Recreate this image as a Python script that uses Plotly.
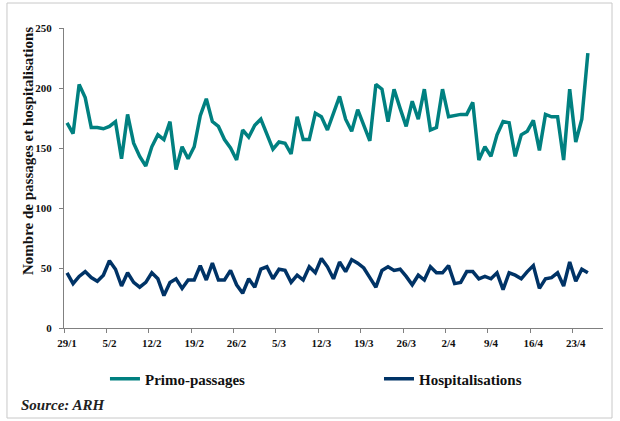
import pandas as pd
import plotly.graph_objects as go

# Daily categories 29/1 -> 25/4 (non-leap year)
dates = pd.date_range("2006-01-29", "2006-04-25", freq="D")
categories = [f"{d.day}/{d.month}" for d in dates]

primo_passages = [
    171, 162, 203, 192, 167, 167, 166, 168, 172, 141,
    178, 154, 143, 135, 151, 161, 157, 172, 132, 151,
    141, 151, 177, 191, 172, 168, 157, 150, 140, 165,
    159, 169, 174, 161, 149, 155, 154, 145, 176, 157,
    157, 179, 176, 165, 178, 193, 174, 164, 182, 169,
    156, 203, 199, 172, 199, 183, 168, 189, 174, 199,
    165, 167, 199, 176, 177, 178, 178, 188, 140, 151,
    143, 161, 172, 171, 143, 161, 164, 173, 148, 178,
    176, 176, 140, 199, 155, 174, 229,
]

hospitalisations = [
    46, 37, 43, 47, 42, 39, 44, 56, 49, 35,
    46, 38, 34, 38, 46, 41, 27, 38, 41, 33,
    40, 40, 52, 40, 54, 40, 40, 48, 36, 29,
    41, 34, 49, 51, 41, 49, 48, 38, 44, 40,
    51, 46, 58, 51, 41, 55, 47, 57, 54, 50,
    42, 34, 48, 51, 48, 49, 43, 36, 44, 40,
    51, 46, 46, 52, 37, 38, 47, 47, 41, 43,
    41, 46, 32, 46, 44, 41, 47, 52, 33, 41,
    42, 46, 35, 55, 39, 49, 46,
]

y_ticks = [0, 50, 100, 150, 200, 250]
n_axis_categories = 89  # axis runs to 27/4
label_step = 7

idx = list(range(len(categories)))
tick_idx = idx[::label_step]
tick_text = [categories[i] for i in tick_idx]

TEAL = "#008080"
NAVY = "#003366"
SERIF = "Liberation Serif, Times New Roman, serif"
legend_font = dict(family=SERIF, size=15, color="#111111", weight="bold")

fig = go.Figure()
fig.add_trace(go.Scatter(x=idx, y=primo_passages, mode="lines", name="Primo-passages",
                         line=dict(color=TEAL, width=3.5), legend="legend"))
fig.add_trace(go.Scatter(x=idx, y=hospitalisations, mode="lines", name="Hospitalisations",
                         line=dict(color=NAVY, width=3.5), legend="legend2"))

fig.update_layout(
    width=620, height=421,
    margin=dict(l=64, r=17, t=28, b=93),
    paper_bgcolor="white", plot_bgcolor="white",
    font=dict(family=SERIF, color="#111111"),
    showlegend=True,
    legend=dict(orientation="h", x=0.076, y=-0.17, xanchor="left", yanchor="middle",
                font=legend_font, itemwidth=30, bgcolor="rgba(0,0,0,0)"),
    legend2=dict(orientation="h", x=0.5844, y=-0.17, xanchor="left", yanchor="middle",
                 font=legend_font, itemwidth=30, bgcolor="rgba(0,0,0,0)"),
    xaxis=dict(
        range=[-0.5, n_axis_categories - 0.5],
        tickmode="array", tickvals=tick_idx, ticktext=tick_text,
        ticks="", showgrid=False, zeroline=False, ticklabelstandoff=5,
        showline=True, linecolor="#808080", linewidth=1,
        tickfont=dict(family=SERIF, size=11, color="#111111", weight="bold"),
        minor=dict(tickmode="linear", tick0=-0.5, dtick=label_step,
                   ticks="outside", ticklen=4, tickcolor="#808080", tickwidth=1,
                   showgrid=False),
    ),
    yaxis=dict(
        range=[0, 250], tickmode="array", tickvals=y_ticks,
        ticks="outside", ticklen=4, tickcolor="#808080", tickwidth=1,
        showgrid=False, zeroline=False, ticklabelstandoff=5,
        showline=True, linecolor="#808080", linewidth=1,
        tickfont=dict(family=SERIF, size=11, color="#111111", weight="bold"),
    ),
)

# y-axis title
fig.add_annotation(text="Nombre de passages et hospitalisations",
                   xref="paper", yref="paper", x=-0.0668, y=0.59,
                   xanchor="center", yanchor="middle", textangle=-90, showarrow=False,
                   font=dict(family=SERIF, size=15, color="#111111", weight="bold"))
# source
fig.add_annotation(text="<b><i>Source: ARH</i></b>",
                   xref="paper", yref="paper", x=-0.0835, y=-0.257,
                   xanchor="left", yanchor="middle", showarrow=False,
                   font=dict(family=SERIF, size=15, color="#222222"))
# outer frame
fig.add_shape(type="rect", xref="paper", yref="paper",
              x0=-0.1058, x1=1.0167, y0=-0.30, y1=1.0833,
              line=dict(color="#c8c8c8", width=1))

fig.write_html("out.html", config={"displayModeBar": False},
               post_script="document.body.style.margin='0px';")
